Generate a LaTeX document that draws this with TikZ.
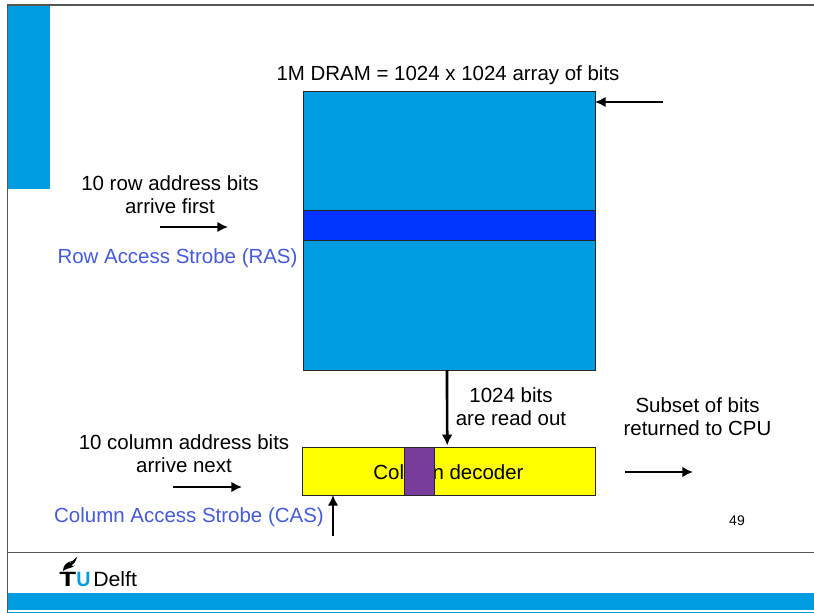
\documentclass[tikz,border=0pt]{standalone}
\usepackage{fontspec}
\setmainfont{Liberation Sans}
\usepackage{xcolor}
\usetikzlibrary{arrows.meta}
\definecolor{tublue}{RGB}{0,158,224}
\definecolor{bandblue}{RGB}{0,51,255}
\definecolor{strobeblue}{RGB}{70,90,220}
\definecolor{selpurple}{RGB}{120,60,155}
\definecolor{framegray}{RGB}{85,85,85}
\definecolor{decyellow}{RGB}{255,255,0}
\tikzset{
 blockbox/.style={draw=black!85,line width=.75pt,inner sep=0pt,outer sep=0pt},
 sig/.style={->,line width=2pt},
 lab/.style={align=center,inner sep=0pt},
 strobe/.style={inner sep=0pt,text=strobeblue},
}
\begin{document}
\begin{tikzpicture}[x=.75pt,y=-.75pt,>={Latex[length=8pt,width=8pt]},font=\fontsize{15.35}{17.25}\selectfont]
 \useasboundingbox (0,0) rectangle (814,613);
 \fill[white] (0,0) rectangle (814,613);
 % slide furniture
 \fill[tublue] (8,5) rectangle (50,189);
 \fill[tublue] (8,593) rectangle (814,610);
 \fill[tublue] (8,611.5) rectangle (814,613);
 \draw[framegray,line width=.9pt] (814,5)--(7.5,5)--(7.5,613);
 \draw[framegray,line width=.9pt] (7.5,552.5)--(814,552.5);
 \fill (63,571) .. controls (63,565) and (67,562) .. (72,561) .. controls (70,562) and (69,563) .. (69,564) .. controls (72,562) and (75,558) .. (77,557) .. controls (76,561) and (74,564) .. (71,566) .. controls (73,566) and (74,566) .. (75,565) .. controls (72,569) and (68,567) .. (63,571);
 \node[inner sep=0pt,anchor=base west,xscale=1.33] (logoT) at (59,586.5) {\fontsize{15.5}{15.5}\selectfont\bfseries T};
 \node[inner sep=0pt,anchor=base west,text=tublue,xscale=.95] (logoU) at (76,586.5) {\fontsize{15.5}{15.5}\selectfont\bfseries U};
 \node[inner sep=0pt,anchor=base west,xscale=1.03] (logoD) at (93,586.5) {\fontsize{15.5}{15.5}\selectfont Delft};
 % memory array
 \node[blockbox,fill=tublue,minimum width=219pt,minimum height=208.5pt,anchor=north west] (array) at (303,92) {};
 \node[blockbox,fill=bandblue,minimum width=219pt,minimum height=22.5pt,anchor=north west] (band) at (303,210.5) {};
 \node[blockbox,fill=decyellow,minimum width=220pt,minimum height=36pt,anchor=north west] (decoder) at (302,447) {};
 \node[inner sep=0pt] (decname) at (448.5,472) {Column decoder};
 \node[blockbox,fill=selpurple,minimum width=22.5pt,minimum height=36pt,anchor=north west] (selcol) at (404,447) {};
 % labels
 \node[lab] (title) at (448,75.5) {1M DRAM = 1024 x 1024 array of bits};
 \node[lab] (rowlab) at (170,194.5) {10 row address bits\\arrive first};
 \node[strobe] (ras) at (177.5,258) {Row Access Strobe (RAS)};
 \node[lab] (readlab) at (511,406.5) {1024 bits\\are read out};
 \node[lab] (sublab) at (697.5,416.5) {Subset of bits\\returned to CPU};
 \node[lab] (collab) at (184,453.5) {10 column address bits\\arrive next};
 \node[strobe] (cas) at (189,517.5) {Column Access Strobe (CAS)};
 \node[inner sep=0pt,font=\fontsize{10.5}{12}\selectfont] (pagenum) at (737,521) {49};
 % arrows
 \coordinate (rowstart) at (160,227);
 \coordinate (rowend) at (228,227);
 \coordinate (wlstart) at (663,102);
 \coordinate (colstart) at (173,487);
 \coordinate (colend) at (242,487);
 \coordinate (casstart) at (333,536);
 \coordinate (outstart) at (625,472);
 \coordinate (outend) at (693,472);
 \draw[sig] (rowstart)--(rowend);
 \draw[sig] (wlstart)--(array.north east|-wlstart);
 \draw[sig] ([xshift=-1.5pt]array.south)--([xshift=-1.1pt,yshift=1.2pt]decoder.north);
 \draw[sig] (colstart)--(colend);
 \draw[sig] (casstart)--(casstart|-decoder.south);
 \draw[sig] (outstart)--(outend);
\end{tikzpicture}
\end{document}
